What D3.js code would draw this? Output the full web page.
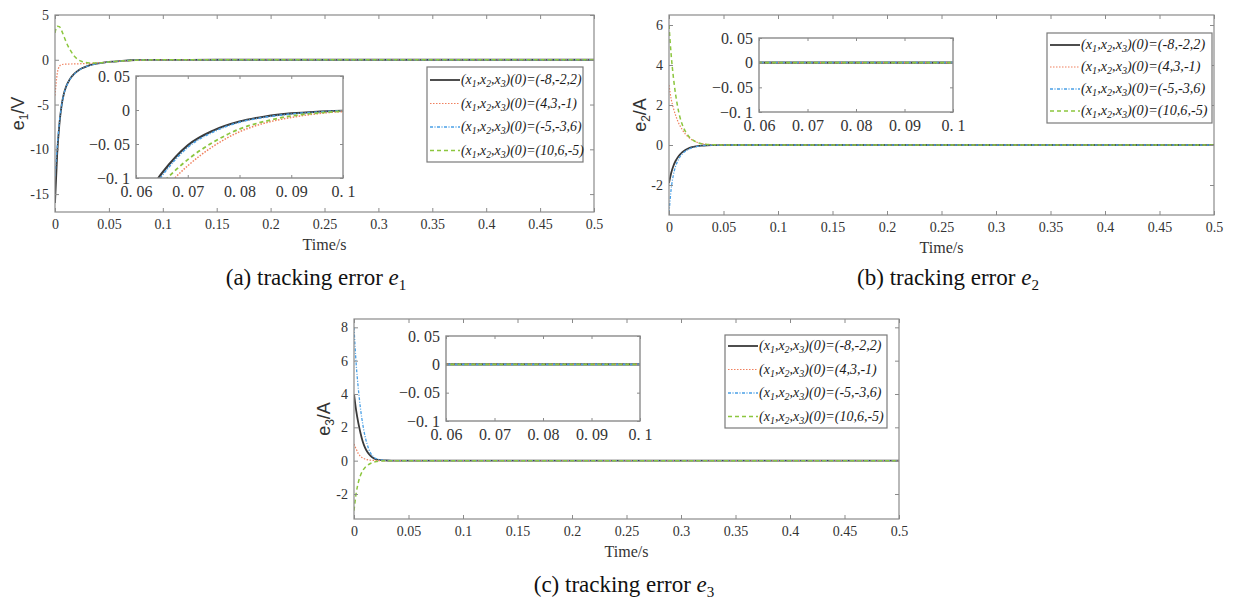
<!DOCTYPE html>
<html lang="en">
<head>
<meta charset="utf-8">
<title>tracking error</title>
<script src="https://cdnjs.cloudflare.com/ajax/libs/d3/7.8.5/d3.min.js"></script>
<style>
  body { margin: 0; background: #fff; }
  svg text { fill: #333; }
</style>
</head>
<body>
<svg id="canvas" width="1234" height="605"></svg>
<script>
// sample times (s), shared by every run
const time = [0, 0.002, 0.004, 0.006, 0.008, 0.01, 0.012, 0.015, 0.018, 0.021, 0.025,
  0.03, 0.035, 0.04, 0.045, 0.05, 0.055, 0.06, 0.065, 0.07, 0.075, 0.08, 0.085, 0.09,
  0.095, 0.1, 0.15, 0.2, 0.3, 0.4, 0.5];

// e1 (V), one array per initial state
const e1Black = [-16, -10.6, -7.3, -5.2, -3.9, -3.1, -2.55, -1.95, -1.55, -1.25, -0.95,
  -0.7, -0.52, -0.4, -0.31, -0.24, -0.2, -0.15, -0.093, -0.052, -0.03, -0.017, -0.0095, -0.005,
  -0.0025, -0.001, 0, 0, 0, 0, 0];
const e1Red = [-4, -1.6, -0.75, -0.55, -0.5, -0.49, -0.48, -0.47, -0.46, -0.45, -0.44,
  -0.42, -0.39, -0.35, -0.3, -0.26, -0.21, -0.165, -0.12, -0.082, -0.053, -0.032, -0.019, -0.011,
  -0.0055, -0.0025, 0, 0, 0, 0, 0];
const e1Blue = [-13, -9.8, -7.1, -5.2, -3.95, -3.15, -2.6, -2.0, -1.6, -1.28, -0.98,
  -0.72, -0.54, -0.41, -0.32, -0.25, -0.205, -0.155, -0.097, -0.055, -0.032, -0.018, -0.0105, -0.0058,
  -0.003, -0.0012, 0, 0, 0, 0, 0];
const e1Green = [3.0, 3.75, 3.7, 3.3, 2.7, 2.1, 1.55, 0.9, 0.4, 0.05, -0.2,
  -0.33, -0.36, -0.35, -0.31, -0.26, -0.2, -0.15, -0.108, -0.073, -0.047, -0.028, -0.0165, -0.0088,
  -0.0045, -0.002, 0, 0, 0, 0, 0];

// e2 (A)
const e2Black = [-1.9, -1.4, -1.05, -0.8, -0.62, -0.48, -0.37, -0.25, -0.17, -0.11, -0.065,
  -0.03, -0.013, -0.006, -0.002, 0, 0, 0, 0, 0, 0, 0, 0, 0, 0, 0, 0, 0, 0, 0, 0];
const e2Red = [3.0, 2.3, 1.85, 1.5, 1.2, 0.97, 0.78, 0.55, 0.38, 0.26, 0.15,
  0.07, 0.03, 0.012, 0.005, 0.002, 0, 0, 0, 0, 0, 0, 0, 0, 0, 0, 0, 0, 0, 0, 0];
const e2Blue = [-3.4, -2.2, -1.5, -1.07, -0.8, -0.6, -0.46, -0.31, -0.21, -0.14, -0.08,
  -0.04, -0.018, -0.008, -0.003, -0.001, 0, 0, 0, 0, 0, 0, 0, 0, 0, 0, 0, 0, 0, 0, 0];
const e2Green = [6.0, 4.5, 3.4, 2.55, 1.9, 1.4, 1.05, 0.68, 0.44, 0.28, 0.15,
  0.065, 0.028, 0.012, 0.005, 0.002, 0, 0, 0, 0, 0, 0, 0, 0, 0, 0, 0, 0, 0, 0, 0];

// e3 (A)
const e3Black = [4.0, 3.0, 2.25, 1.65, 1.15, 0.8, 0.55, 0.3, 0.15, 0.07, 0.03,
  0.01, 0.003, 0.001, 0, 0, 0, 0, 0, 0, 0, 0, 0, 0, 0, 0, 0, 0, 0, 0, 0];
const e3Red = [1.0, 0.7, 0.42, 0.26, 0.16, 0.1, 0.06, 0.03, 0.015, 0.007, 0.003,
  0.001, 0, 0, 0, 0, 0, 0, 0, 0, 0, 0, 0, 0, 0, 0, 0, 0, 0, 0, 0];
const e3Blue = [8.0, 5.8, 4.3, 3.1, 2.2, 1.5, 1.0, 0.48, 0.22, 0.1, 0.04,
  0.012, 0.004, 0.001, 0, 0, 0, 0, 0, 0, 0, 0, 0, 0, 0, 0, 0, 0, 0, 0, 0];
const e3Green = [-3.0, -1.95, -1.3, -0.87, -0.6, -0.42, -0.3, -0.17, -0.09, -0.05, -0.02,
  -0.008, -0.003, -0.001, 0, 0, 0, 0, 0, 0, 0, 0, 0, 0, 0, 0, 0, 0, 0, 0, 0];

// legend entries: initial states (x1,x2,x3)(0)
const initStates = ["(-8,-2,2)", "(4,3,-1)", "(-5,-3,6)", "(10,6,-5)"];

// tick values / labels
const xTicks = [0, 0.05, 0.1, 0.15, 0.2, 0.25, 0.3, 0.35, 0.4, 0.45, 0.5];
const e1Ticks = [-15, -10, -5, 0, 5];
const e2Ticks = [-2, 0, 2, 4, 6];
const e3Ticks = [-2, 0, 2, 4, 6, 8];
const insetXTicks = [0.06, 0.07, 0.08, 0.09, 0.1];
const insetXLabels = ["0. 06", "0. 07", "0. 08", "0. 09", "0. 1"];
const insetYTicks = [-0.1, -0.05, 0, 0.05];
const insetYLabels = ["\u22120. 1", "\u22120. 05", "0", "0. 05"];

// line look, same order as legend
const runStyle = [
  { color: "#3a3a3a", width: 1.8, dash: null },
  { color: "#f0805e", width: 1.2, dash: "1.5,1.5" },
  { color: "#4aa0e6", width: 1.3, dash: "3,1.5,1,1.5" },
  { color: "#8cc63e", width: 1.5, dash: "4,3" }
];

const svg = d3.select("#canvas");
const serif = "'Liberation Serif', 'Times New Roman', serif";
const sans = "'Liberation Sans', Arial, sans-serif";
const axisGrey = "#8a8a8a";

function styleAxis(sel, size) {
  sel.select(".domain").remove();
  sel.selectAll(".tick line").attr("stroke", axisGrey);
  sel.selectAll(".tick text").style("font-family", serif).style("font-size", size + "px").style("fill", "#333");
}

function drawPanel(p, runs, yTicks) {
  let g = svg.append("g");
  let x = d3.scaleLinear().domain([0, 0.5]).range([p.left, p.right]);
  let y = d3.scaleLinear().domain(p.yDomain).range([p.bottom, p.top]);

  g.append("clipPath").attr("id", "clip-" + p.id)
    .append("rect").attr("x", p.left).attr("y", p.top)
    .attr("width", p.right - p.left).attr("height", p.bottom - p.top);

  let line = d3.line()
    .x(function(d, i) { return x(time[i]); })
    .y(function(d) { return y(d); })
    .curve(d3.curveMonotoneX);

  //main curves
  g.append("g").attr("clip-path", "url(#clip-" + p.id + ")")
    .selectAll("path").data(runs).join("path")
    .attr("d", function(d) { return line(d); })
    .attr("fill", "none")
    .attr("stroke", function(d, i) { return runStyle[i].color; })
    .attr("stroke-width", function(d, i) { return runStyle[i].width; })
    .attr("stroke-dasharray", function(d, i) { return runStyle[i].dash; });

  //axes, ticks inside on all four sides (matlab box)
  g.append("g").attr("transform", "translate(0," + p.bottom + ")")
    .call(d3.axisBottom(x).tickValues(xTicks).tickSize(-4).tickPadding(7).tickFormat(function(d) { return String(d); }))
    .call(styleAxis, 14);
  g.append("g").attr("transform", "translate(0," + p.top + ")")
    .call(d3.axisTop(x).tickValues(xTicks).tickSize(-4).tickFormat(""))
    .call(styleAxis, 14);
  g.append("g").attr("transform", "translate(" + p.left + ",0)")
    .call(d3.axisLeft(y).tickValues(yTicks).tickSize(-4).tickPadding(6).tickFormat(function(d) { return String(d); }))
    .call(styleAxis, 14);
  g.append("g").attr("transform", "translate(" + p.right + ",0)")
    .call(d3.axisRight(y).tickValues(yTicks).tickSize(-4).tickFormat(""))
    .call(styleAxis, 14);
  g.append("rect").attr("x", p.left).attr("y", p.top)
    .attr("width", p.right - p.left).attr("height", p.bottom - p.top)
    .attr("fill", "none").attr("stroke", axisGrey).attr("stroke-width", 1.2);

  //axis labels
  g.append("text").attr("x", (p.left + p.right) / 2).attr("y", p.bottom + 38)
    .attr("text-anchor", "middle").style("font-family", serif).style("font-size", "16px")
    .text("Time/s");
  let yl = g.append("text")
    .attr("transform", "translate(" + p.yLabelX + "," + (p.top + p.bottom) / 2 + ") rotate(-90)")
    .attr("text-anchor", "middle").style("font-family", sans).style("font-size", "18px");
  yl.append("tspan").text("e");
  yl.append("tspan").attr("dy", 4).style("font-size", "12px").text(p.sub);
  yl.append("tspan").attr("dy", -4).text("/" + p.unit);

  //inset (zoom on 0.06..0.1)
  let ins = p.inset;
  let xi = d3.scaleLinear().domain([0.06, 0.1]).range([ins.x0, ins.x1]);
  let yi = d3.scaleLinear().domain([-0.1, 0.05]).range([ins.y1, ins.y0]);
  g.append("rect").attr("x", ins.x0).attr("y", ins.y0)
    .attr("width", ins.x1 - ins.x0).attr("height", ins.y1 - ins.y0).attr("fill", "#fff");
  g.append("clipPath").attr("id", "clipi-" + p.id)
    .append("rect").attr("x", ins.x0).attr("y", ins.y0)
    .attr("width", ins.x1 - ins.x0).attr("height", ins.y1 - ins.y0);
  let lineIn = d3.line()
    .x(function(d, i) { return xi(time[i]); })
    .y(function(d) { return yi(d); })
    .curve(d3.curveMonotoneX);
  g.append("g").attr("clip-path", "url(#clipi-" + p.id + ")")
    .selectAll("path").data(runs).join("path")
    .attr("d", function(d) { return lineIn(d); })
    .attr("fill", "none")
    .attr("stroke", function(d, i) { return runStyle[i].color; })
    .attr("stroke-width", function(d, i) { return runStyle[i].width + 0.3; })
    .attr("stroke-dasharray", function(d, i) { return runStyle[i].dash; });

  g.append("g").attr("transform", "translate(0," + ins.y1 + ")")
    .call(d3.axisBottom(xi).tickValues(insetXTicks).tickSize(-3).tickPadding(8)
      .tickFormat(function(d, i) { return insetXLabels[i]; }))
    .call(styleAxis, 16);
  g.append("g").attr("transform", "translate(0," + ins.y0 + ")")
    .call(d3.axisTop(xi).tickValues(insetXTicks).tickSize(-3).tickFormat(""))
    .call(styleAxis, 16);
  g.append("g").attr("transform", "translate(" + ins.x0 + ",0)")
    .call(d3.axisLeft(yi).tickValues(insetYTicks).tickSize(-3).tickPadding(6)
      .tickFormat(function(d, i) { return insetYLabels[i]; }))
    .call(styleAxis, 16);
  g.append("g").attr("transform", "translate(" + ins.x1 + ",0)")
    .call(d3.axisRight(yi).tickValues(insetYTicks).tickSize(-3).tickFormat(""))
    .call(styleAxis, 16);
  g.append("rect").attr("x", ins.x0).attr("y", ins.y0)
    .attr("width", ins.x1 - ins.x0).attr("height", ins.y1 - ins.y0)
    .attr("fill", "none").attr("stroke", axisGrey).attr("stroke-width", 1.4);

  //legend
  let lg = p.legend;
  g.append("rect").attr("x", lg.x).attr("y", lg.y).attr("width", lg.w).attr("height", lg.h)
    .attr("fill", "#fff").attr("stroke", "#7a7a7a").attr("stroke-width", 1.2);
  initStates.forEach(function(s, i) {
    let ry = lg.y + lg.first + i * lg.step;
    g.append("line").attr("x1", lg.x + 3).attr("x2", lg.x + 33).attr("y1", ry).attr("y2", ry)
      .attr("stroke", runStyle[i].color).attr("stroke-width", runStyle[i].width)
      .attr("stroke-dasharray", runStyle[i].dash);
    let t = g.append("text").attr("x", lg.x + 34).attr("y", ry + 4)
      .style("font-family", serif).style("font-style", "italic")
      .style("font-size", lg.font + "px").style("fill", "#1a1a1a");
    t.append("tspan").text("(x");
    t.append("tspan").attr("dy", 3).style("font-size", (lg.font - 4) + "px").text("1");
    t.append("tspan").attr("dy", -3).text(",x");
    t.append("tspan").attr("dy", 3).style("font-size", (lg.font - 4) + "px").text("2");
    t.append("tspan").attr("dy", -3).text(",x");
    t.append("tspan").attr("dy", 3).style("font-size", (lg.font - 4) + "px").text("3");
    t.append("tspan").attr("dy", -3).text(")(0)=" + s);
  });

  //caption under the panel
  let c = g.append("text").attr("x", p.capX).attr("y", p.capY).attr("text-anchor", "middle")
    .style("font-family", serif).style("font-size", "23px").style("fill", "#111");
  c.append("tspan").text("(" + p.id + ") tracking error ");
  c.append("tspan").style("font-style", "italic").text("e");
  c.append("tspan").attr("dy", 5).style("font-size", "15px").text(p.sub);
}

//Panel a
drawPanel({
  id: "a", left: 55, right: 594, top: 15, bottom: 212, yDomain: [-17, 5],
  yLabelX: 24, sub: "1", unit: "V",
  inset: { x0: 136, x1: 343, y0: 76, y1: 178 },
  legend: { x: 427, y: 67, w: 156, h: 95, first: 13, step: 23.5, font: 13.8 },
  capX: 316, capY: 285
}, [e1Black, e1Red, e1Blue, e1Green], e1Ticks);

//Panel b
drawPanel({
  id: "b", left: 669, right: 1214, top: 15, bottom: 215, yDomain: [-3.5, 6.5],
  yLabelX: 646, sub: "2", unit: "A",
  inset: { x0: 759, x1: 953, y0: 38, y1: 112 },
  legend: { x: 1047, y: 33, w: 165, h: 90, first: 12, step: 22, font: 14.2 },
  capX: 948, capY: 285
}, [e2Black, e2Red, e2Blue, e2Green], e2Ticks);

//Panel c
drawPanel({
  id: "c", left: 354, right: 899, top: 319, bottom: 519, yDomain: [-3.5, 8.5],
  yLabelX: 330, sub: "3", unit: "A",
  inset: { x0: 446, x1: 640, y0: 336, y1: 421 },
  legend: { x: 725, y: 335, w: 162, h: 93, first: 11, step: 23.5, font: 14 },
  capX: 624, capY: 592
}, [e3Black, e3Red, e3Blue, e3Green], e3Ticks);
</script>
</body>
</html>
